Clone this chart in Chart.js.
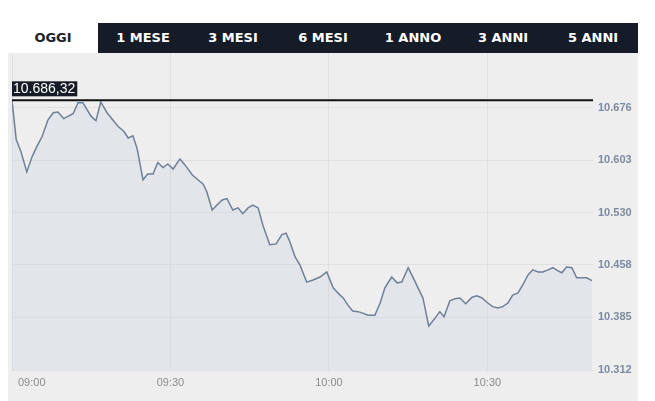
<!DOCTYPE html>
<html>
<head>
<meta charset="utf-8">
<script src="https://cdn.jsdelivr.net/npm/chart.js@4"></script>
<style>
  body { margin: 0; background: #fff; font-family: "Liberation Sans", Arial, sans-serif; }
  #tabs { position: absolute; left: 8px; top: 23px; width: 630px; height: 30px; background: #151c28; display: flex; }
  #tabs div { width: 90px; font: bold 13px "DejaVu Sans", sans-serif; line-height: 30px; text-align: center; color: #fff; }
  #tabs div.on { background: #fff; color: #1d222b; }
  #panel { position: absolute; left: 8px; top: 53px; width: 630px; height: 348px; background: #eeeeee; }
</style>
</head>
<body>
<div id="tabs">
  <div class="on">OGGI</div><div>1 MESE</div><div>3 MESI</div><div>6 MESI</div><div>1 ANNO</div><div>3 ANNI</div><div>5 ANNI</div>
</div>
<div id="panel"><canvas id="myChart"></canvas></div>
<script>
// minutes after 09:00
let minutes = [0, 0.8, 1.7, 2.8, 3.8, 4.7, 5.7, 6.8, 7.8, 8.7, 9.8, 10.6, 11.6, 12.5, 13.4, 15.0, 15.9, 16.8,
  18.0, 19.1, 20.1, 21.2, 22.0, 22.9, 23.7, 24.8, 25.7, 26.7, 27.6, 28.6, 29.5, 30.5, 31.8, 32.7, 34.1, 35.2,
  36.2, 36.9, 37.9, 38.8, 39.8, 40.7, 41.8, 42.8, 43.7, 44.7, 45.6, 46.6, 47.5, 48.8, 50.0, 51.1, 51.9, 52.6,
  53.6, 54.5, 55.8, 57.0, 58.3, 59.6, 60.8, 61.7, 62.7, 63.6, 64.5, 65.5, 66.4, 67.4, 68.7, 69.7, 70.6, 71.9,
  72.9, 73.8, 75.0, 75.9, 76.8, 77.8, 78.9, 80.1, 81.0, 81.8, 82.9, 83.9, 84.8, 85.9, 87.1, 88.0, 89.0, 89.9,
  91.0, 92.0, 92.9, 93.9, 94.8, 95.8, 96.7, 97.7, 98.6, 99.6, 100.5, 101.5, 102.4, 103.3, 104.1, 105.0, 106.0,
  106.9, 107.9, 108.8, 109.8];
let values = [10686, 10632, 10615, 10587, 10608, 10622, 10636, 10659, 10669, 10670, 10661, 10664, 10668, 10683, 10683, 10664, 10658, 10684,
  10669, 10659, 10650, 10643, 10634, 10637, 10619, 10576, 10584, 10584, 10600, 10593, 10598, 10591, 10605, 10597, 10583, 10576,
  10570, 10559, 10534, 10541, 10548, 10550, 10534, 10537, 10529, 10537, 10541, 10537, 10513, 10486, 10487, 10500, 10502, 10490,
  10469, 10458, 10434, 10437, 10441, 10448, 10426, 10419, 10412, 10402, 10394, 10393, 10391, 10388, 10388, 10405, 10426, 10441,
  10433, 10434, 10454, 10441, 10427, 10412, 10373, 10384, 10393, 10386, 10408, 10411, 10412, 10404, 10413, 10415, 10412, 10406,
  10400, 10398, 10400, 10405, 10416, 10419, 10430, 10444, 10451, 10448, 10448, 10451, 10454, 10450, 10447, 10455, 10454,
  10440, 10440, 10440, 10436];

let yTicks = [10312, 10385, 10458, 10530, 10603, 10676];
let yTickLabels = ['10.312', '10.385', '10.458', '10.530', '10.603', '10.676'];
let xTicks = [0, 30, 60, 90];
let xTickLabels = ['09:00', '09:30', '10:00', '10:30'];
let prevClose = 10686.32;
let prevCloseLabel = '10.686,32';

let extras = {
  id: 'extras',
  afterDatasetsDraw(chart) {
    let ctx = chart.ctx, area = chart.chartArea, x = chart.scales.x, y = chart.scales.y;
    let py = y.getPixelForValue(prevClose);
    ctx.save();
    ctx.strokeStyle = '#111';
    ctx.lineWidth = 2;
    ctx.beginPath();
    ctx.moveTo(area.left, py);
    ctx.lineTo(area.right, py);
    ctx.stroke();

    ctx.font = '14px "Liberation Sans", Arial, sans-serif';
    let w = ctx.measureText(prevCloseLabel).width;
    ctx.fillStyle = '#151c28';
    ctx.fillRect(area.left, py - 19, w + 3, 15);
    ctx.fillStyle = '#fff';
    ctx.textBaseline = 'middle';
    ctx.textAlign = 'left';
    ctx.fillText(prevCloseLabel, area.left + 1, py - 11);

    ctx.font = '11px "Liberation Sans", Arial, sans-serif';
    ctx.fillStyle = '#8c8c8c';
    xTicks.forEach(function (v, i) {
      let px = x.getPixelForValue(v);
      ctx.textAlign = i == 0 ? 'left' : 'center';
      ctx.fillText(xTickLabels[i], i == 0 ? px + 6 : px, area.bottom + 13);
    });
    ctx.restore();
  }
};

let myChart = new Chart(document.getElementById('myChart'), {
  type: 'line',
  data: {
    datasets: [{
      data: minutes.map((m, i) => ({ x: m, y: values[i] })),
      borderColor: '#6f7f96',
      borderWidth: 1.5,
      backgroundColor: 'rgba(198, 208, 221, 0.3)',
      fill: 'start',
      pointRadius: 0,
      tension: 0
    }]
  },
  options: {
    responsive: true,
    maintainAspectRatio: false,
    animation: false,
    layout: { padding: { left: 4, top: 0, right: 0, bottom: 0 } },
    plugins: { legend: { display: false }, tooltip: { enabled: false } },
    scales: {
      x: {
        type: 'linear',
        min: 0,
        max: 110,
        afterBuildTicks: s => { s.ticks = xTicks.map(v => ({ value: v })); },
        afterFit: s => { s.height = 31; s.paddingLeft = 0; s.paddingRight = 0; },
        ticks: { display: false },
        grid: { color: '#e0e0e0', drawTicks: false },
        border: { display: false }
      },
      y: {
        position: 'right',
        min: 10312,
        max: 10752,
        afterBuildTicks: s => { s.ticks = yTicks.map(v => ({ value: v })); },
        afterFit: s => { s.width = 45; s.paddingTop = 0; s.paddingBottom = 0; },
        ticks: {
          padding: 5,
          color: '#7d8aa1',
          font: { family: '"Liberation Sans", Arial, sans-serif', size: 11, weight: 'bold' },
          callback: (v) => yTickLabels[yTicks.indexOf(v)]
        },
        grid: { color: '#e0e0e0', drawTicks: false },
        border: { display: false }
      }
    }
  },
  plugins: [extras]
});
</script>
</body>
</html>
